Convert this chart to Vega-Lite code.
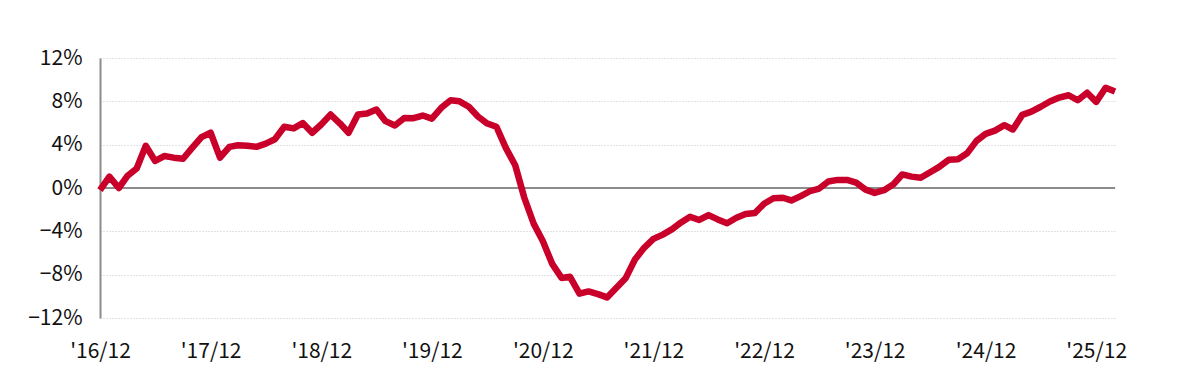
{
  "$schema": "https://vega.github.io/schema/vega-lite/v6.json",
  "autosize": {"type": "none"},
  "width": 1015,
  "height": 260,
  "padding": {"left": 100, "top": 58, "right": 85, "bottom": 74},
  "background": "white",
  "config": {
    "view": {"stroke": null},
    "axis": {"labelFont": "Noto Sans CJK JP", "labelFontSize": 21, "labelColor": "#111111"}
  },
  "data": {"values": [
    {"d":"2016-12","v":-0.2},{"d":"2017-01","v":1.05},{"d":"2017-02","v":0.0},{"d":"2017-03","v":1.1},{"d":"2017-04","v":1.8},{"d":"2017-05","v":3.9},{"d":"2017-06","v":2.5},{"d":"2017-07","v":2.95},{"d":"2017-08","v":2.8},{"d":"2017-09","v":2.7},{"d":"2017-10","v":3.7},{"d":"2017-11","v":4.7},{"d":"2017-12","v":5.1},
    {"d":"2018-01","v":2.8},{"d":"2018-02","v":3.8},{"d":"2018-03","v":3.95},{"d":"2018-04","v":3.9},{"d":"2018-05","v":3.8},{"d":"2018-06","v":4.1},{"d":"2018-07","v":4.5},{"d":"2018-08","v":5.65},{"d":"2018-09","v":5.5},{"d":"2018-10","v":6.0},{"d":"2018-11","v":5.1},{"d":"2018-12","v":5.86},
    {"d":"2019-01","v":6.78},{"d":"2019-02","v":5.95},{"d":"2019-03","v":5.1},{"d":"2019-04","v":6.78},{"d":"2019-05","v":6.87},{"d":"2019-06","v":7.24},{"d":"2019-07","v":6.17},{"d":"2019-08","v":5.77},{"d":"2019-09","v":6.47},{"d":"2019-10","v":6.44},{"d":"2019-11","v":6.69},{"d":"2019-12","v":6.4},
    {"d":"2020-01","v":7.4},{"d":"2020-02","v":8.1},{"d":"2020-03","v":8.0},{"d":"2020-04","v":7.5},{"d":"2020-05","v":6.6},{"d":"2020-06","v":5.95},{"d":"2020-07","v":5.65},{"d":"2020-08","v":3.7},{"d":"2020-09","v":2.1},{"d":"2020-10","v":-0.9},{"d":"2020-11","v":-3.3},{"d":"2020-12","v":-4.9},
    {"d":"2021-01","v":-7.0},{"d":"2021-02","v":-8.3},{"d":"2021-03","v":-8.2},{"d":"2021-04","v":-9.75},{"d":"2021-05","v":-9.55},{"d":"2021-06","v":-9.8},{"d":"2021-07","v":-10.1},{"d":"2021-08","v":-9.2},{"d":"2021-09","v":-8.3},{"d":"2021-10","v":-6.6},{"d":"2021-11","v":-5.5},{"d":"2021-12","v":-4.7},
    {"d":"2022-01","v":-4.3},{"d":"2022-02","v":-3.8},{"d":"2022-03","v":-3.2},{"d":"2022-04","v":-2.65},{"d":"2022-05","v":-2.95},{"d":"2022-06","v":-2.5},{"d":"2022-07","v":-2.9},{"d":"2022-08","v":-3.25},{"d":"2022-09","v":-2.75},{"d":"2022-10","v":-2.4},{"d":"2022-11","v":-2.3},{"d":"2022-12","v":-1.45},
    {"d":"2023-01","v":-0.95},{"d":"2023-02","v":-0.9},{"d":"2023-03","v":-1.15},{"d":"2023-04","v":-0.75},{"d":"2023-05","v":-0.3},{"d":"2023-06","v":-0.05},{"d":"2023-07","v":0.6},{"d":"2023-08","v":0.75},{"d":"2023-09","v":0.75},{"d":"2023-10","v":0.5},{"d":"2023-11","v":-0.15},{"d":"2023-12","v":-0.45},
    {"d":"2024-01","v":-0.2},{"d":"2024-02","v":0.35},{"d":"2024-03","v":1.25},{"d":"2024-04","v":1.05},{"d":"2024-05","v":0.95},{"d":"2024-06","v":1.45},{"d":"2024-07","v":1.95},{"d":"2024-08","v":2.6},{"d":"2024-09","v":2.65},{"d":"2024-10","v":3.2},{"d":"2024-11","v":4.35},{"d":"2024-12","v":5.0},
    {"d":"2025-01","v":5.3},{"d":"2025-02","v":5.8},{"d":"2025-03","v":5.4},{"d":"2025-04","v":6.75},{"d":"2025-05","v":7.05},{"d":"2025-06","v":7.5},{"d":"2025-07","v":7.98},{"d":"2025-08","v":8.35},{"d":"2025-09","v":8.56},{"d":"2025-10","v":8.1},{"d":"2025-11","v":8.8},{"d":"2025-12","v":7.95},
    {"d":"2026-01","v":9.25},{"d":"2026-02","v":8.9}
  ]},
  "layer": [
    {
      "mark": {"type": "rule", "color": "#8c8c8c", "strokeWidth": 2},
      "encoding": {"y": {"datum": 0, "type": "quantitative"}}
    },
    {
      "mark": {"type": "line", "color": "#c8002a", "strokeWidth": 6.5, "strokeJoin": "round"},
      "encoding": {
        "x": {
          "field": "d", "type": "temporal",
          "scale": {"type": "utc", "nice": false},
          "axis": {
            "title": null, "grid": false, "domain": false, "ticks": false, "labelPadding": 22,
            "values": [
              {"year":2016,"month":12,"date":1,"utc":true},{"year":2017,"month":12,"date":1,"utc":true},{"year":2018,"month":12,"date":1,"utc":true},{"year":2019,"month":12,"date":1,"utc":true},{"year":2020,"month":12,"date":1,"utc":true},{"year":2021,"month":12,"date":1,"utc":true},{"year":2022,"month":12,"date":1,"utc":true},{"year":2023,"month":12,"date":1,"utc":true},{"year":2024,"month":12,"date":1,"utc":true},{"year":2025,"month":12,"date":1,"utc":true}
            ],
            "labelExpr": "\"'\" + utcFormat(datum.value, '%y/%m')",
            "labelFlush": false, "labelOverlap": false
          }
        },
        "y": {
          "field": "v", "type": "quantitative",
          "scale": {"domain": [-12, 12], "nice": false},
          "axis": {
            "title": null, "values": [-12, -8, -4, 0, 4, 8, 12],
            "labelExpr": "format(datum.value, 'd') + '%'",
            "domain": true, "domainColor": "#8c8c8c", "domainWidth": 2,
            "ticks": false, "labelPadding": 18,
            "grid": true, "gridColor": "#c4c4c4", "gridDash": [1, 2], "gridWidth": 1
          }
        }
      }
    }
  ]
}
